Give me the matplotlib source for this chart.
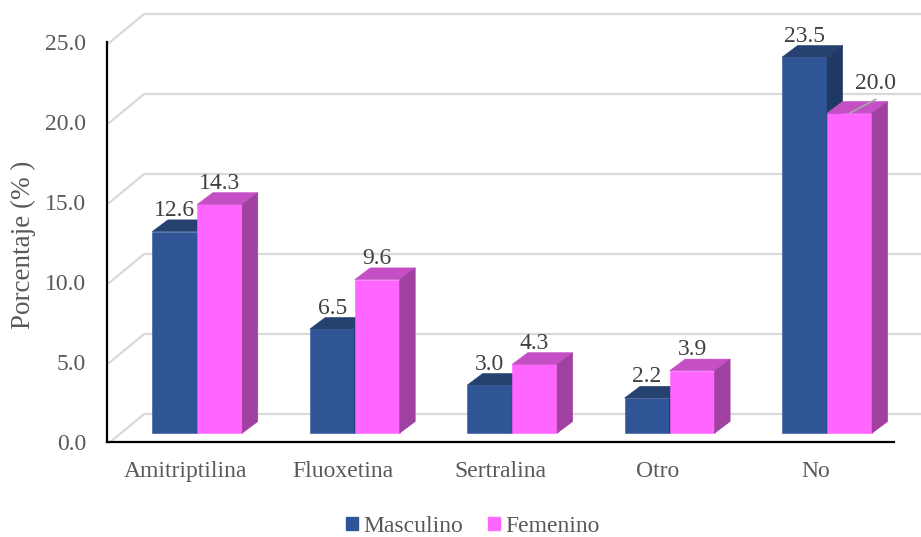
import matplotlib
matplotlib.use("Agg")
import matplotlib.pyplot as plt
from matplotlib.patches import Polygon, Patch

# ---- data ----
categories = ["Amitriptilina", "Fluoxetina", "Sertralina", "Otro", "No"]
masculino = [12.6, 6.5, 3.0, 2.2, 23.5]
femenino = [14.3, 9.6, 4.3, 3.9, 20.0]
series_names = ["Masculino", "Femenino"]
y_ticks = [0, 5, 10, 15, 20, 25]
y_label = "Porcentaje (% )"

plt.rcParams['font.family'] = ['Liberation Serif', 'DejaVu Serif']

FS = 17
TEXT = '#595959'
LABEL = '#404040'
GRID = '#D9D9D9'

# face colours: front, top, side
BLUE = ('#2F5597', '#25416F', '#1F3864')
PINK = ('#FF66FF', '#C54FC5', '#A040A0')

fig = plt.figure(figsize=(9.21, 5.37), dpi=100)
ax = fig.add_axes([0.1159, 0.1769, 0.8548, 0.7449])
ax.set_xlim(-0.5, len(categories) - 0.5)
ax.set_ylim(y_ticks[0], y_ticks[-1])

# oblique depth of the floor, in data units
DX, DY = 0.241, 1.78
F0, FD = 0.31, 0.41          # bar front plane / bar depth as fractions of floor depth
W = 1 / 3.5                  # bar width (gap width 150 %)

# ---- walls: side-wall diagonals and back-wall gridlines ----
x_left = -0.5
x_right = len(categories) - 0.5
for v in y_ticks:
    ax.plot([x_left + 0.01, x_left + DX], [v - 0.1, v + DY], color=GRID, lw=1.6,
            clip_on=False, zorder=0.5, solid_capstyle='butt')
    ax.plot([x_left + DX, x_right + DX + 0.5], [v + DY, v + DY], color=GRID, lw=1.6,
            clip_on=False, zorder=0.5, solid_capstyle='butt')


def bar3d(x0, h, cols, z):
    bx, by = x0 + F0 * DX, F0 * DY
    ddx, ddy = FD * DX, FD * DY
    front = [(bx, by), (bx + W, by), (bx + W, by + h), (bx, by + h)]
    top = [(bx, by + h), (bx + W, by + h), (bx + W + ddx, by + h + ddy), (bx + ddx, by + h + ddy)]
    side = [(bx + W, by), (bx + W + ddx, by + ddy), (bx + W + ddx, by + h + ddy), (bx + W, by + h)]
    for pts, c in ((front, cols[0]), (top, cols[1]), (side, cols[2])):
        ax.add_patch(Polygon(pts, closed=True, facecolor=c, edgecolor=c, lw=0.4,
                             clip_on=False, zorder=z))
    return bx + W / 2, by + h, by + h + ddy


z = 2
for i in range(len(categories)):
    for x0, vals, cols in ((i - W, masculino, BLUE), (i, femenino, PINK)):
        v = vals[i]
        cx, ftop, btop = bar3d(x0, v, cols, z)
        z += 1
        if cols is PINK and i == len(categories) - 1:
            # label moved aside, with a leader line to the bar top
            ax.annotate(f"{v:.1f}", xy=(cx, ftop), xytext=(19, 21.6),
                        textcoords='offset points', ha='center', va='center',
                        fontsize=FS, color=LABEL, zorder=50)
            ax.annotate("", xy=(cx, ftop), xytext=(19, 10),
                        textcoords='offset points', zorder=49,
                        arrowprops=dict(arrowstyle='-', color='#A6A6A6', lw=1.2,
                                        shrinkA=0, shrinkB=0))
        else:
            ax.annotate(f"{v:.1f}", xy=(cx, btop), xytext=(0, 6.8),
                        textcoords='offset points', ha='center', va='center',
                        fontsize=FS, color=LABEL, zorder=50)

# ---- axes ----
for s in ('top', 'right'):
    ax.spines[s].set_visible(False)
for s in ('left', 'bottom'):
    ax.spines[s].set_color('black')
    ax.spines[s].set_linewidth(1.6)
    ax.spines[s].set_zorder(40)
ax.patch.set_alpha(0)

ax.set_yticks(y_ticks)
ax.set_yticklabels([f"{t:.1f}" for t in y_ticks])
ax.set_xticks(range(len(categories)))
ax.set_xticklabels(categories)
ax.tick_params(axis='y', length=0, pad=15, labelsize=FS, labelcolor=TEXT)
ax.tick_params(axis='x', length=0, pad=13.5, labelsize=FS, labelcolor=TEXT)

fig.text(23 / 921, 1 - 245 / 537, y_label, rotation=90, ha='center', va='center',
         fontsize=19.5, color=TEXT)

handles = [Patch(facecolor=BLUE[0], edgecolor=BLUE[0]), Patch(facecolor=PINK[0], edgecolor=PINK[0])]
fig.legend(handles, series_names, loc='center', bbox_to_anchor=(0.5135, 0.02), ncol=2,
           frameon=False, fontsize=FS, handlelength=0.5, handleheight=0.5,
           handletextpad=0.25, columnspacing=1.05, labelcolor=TEXT)

fig.savefig("out.png", dpi=100)
